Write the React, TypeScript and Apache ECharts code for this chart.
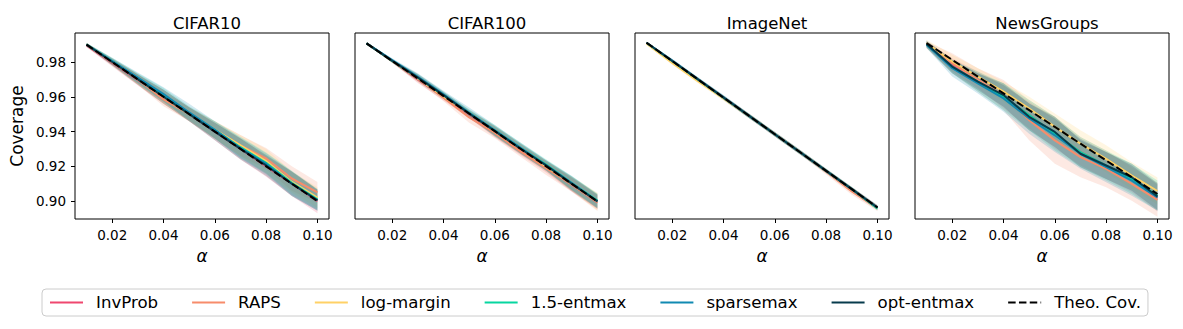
import React, { useEffect, useRef } from "react";
import * as echarts from "echarts";

// ---------- data ----------
const ALPHAS = [0.01, 0.02, 0.03, 0.04, 0.05, 0.06, 0.07, 0.08, 0.09, 0.1];
const THEO = [0.99, 0.98, 0.97, 0.96, 0.95, 0.94, 0.93, 0.92, 0.91, 0.9];

const METHODS = ["InvProb", "RAPS", "log-margin", "1.5-entmax", "sparsemax", "opt-entmax"];
const COLORS = ["#ef476f", "#f78c6b", "#ffd166", "#06d6a0", "#118ab2", "#073b4c"];
const PANEL_TITLES = ["CIFAR10", "CIFAR100", "ImageNet", "NewsGroups"];
const X_TICKS = [0.02, 0.04, 0.06, 0.08, 0.1];
const Y_TICKS = [0.9, 0.92, 0.94, 0.96, 0.98];
const Y_MIN = [0.8897, 0.89, 0.8937, 0.8851];
const Y_MAX = [0.9967, 0.9959, 0.9953, 0.996];

// CIFAR10 means
const c10_invprob = [0.9895, 0.9795, 0.9695, 0.96, 0.95, 0.94, 0.93, 0.92, 0.91, 0.9];
const c10_raps = [0.99, 0.98, 0.97, 0.9585, 0.95, 0.941, 0.932, 0.9245, 0.913, 0.905];
const c10_logm = [0.99, 0.98, 0.97, 0.96, 0.95, 0.941, 0.932, 0.923, 0.911, 0.902];
const c10_ent15 = [0.99, 0.9805, 0.9705, 0.961, 0.9505, 0.941, 0.931, 0.922, 0.9105, 0.901];
const c10_sparse = [0.99, 0.9805, 0.971, 0.9615, 0.951, 0.941, 0.9305, 0.9215, 0.91, 0.9005];
const c10_opt = [0.99, 0.98, 0.97, 0.96, 0.95, 0.94, 0.93, 0.9205, 0.91, 0.9005];
// CIFAR10 std
const c10_invprob_sd = [0.001, 0.002, 0.003, 0.004, 0.004, 0.005, 0.006, 0.006, 0.007, 0.007];
const c10_raps_sd = [0.001, 0.002, 0.003, 0.004, 0.004, 0.005, 0.006, 0.006, 0.007, 0.006];
const c10_logm_sd = [0.001, 0.002, 0.003, 0.004, 0.004, 0.005, 0.006, 0.007, 0.006, 0.006];
const c10_ent15_sd = [0.001, 0.002, 0.003, 0.004, 0.004, 0.005, 0.006, 0.006, 0.007, 0.006];
const c10_sparse_sd = [0.001, 0.002, 0.003, 0.004, 0.005, 0.005, 0.006, 0.006, 0.007, 0.006];
const c10_opt_sd = [0.001, 0.002, 0.003, 0.004, 0.004, 0.005, 0.006, 0.006, 0.007, 0.006];

// CIFAR100 means
const c100_invprob = [0.99, 0.98, 0.9695, 0.9595, 0.9495, 0.9395, 0.9295, 0.9195, 0.9095, 0.8995];
const c100_raps = [0.99, 0.98, 0.97, 0.959, 0.9478, 0.939, 0.9285, 0.919, 0.9095, 0.8995];
const c100_logm = [0.99, 0.98, 0.97, 0.96, 0.95, 0.94, 0.93, 0.92, 0.91, 0.9];
const c100_ent15 = [0.99, 0.98, 0.9705, 0.9605, 0.9505, 0.9405, 0.9305, 0.921, 0.9105, 0.9005];
const c100_sparse = [0.99, 0.9805, 0.971, 0.961, 0.9505, 0.9405, 0.9305, 0.9205, 0.9105, 0.9];
const c100_opt = [0.99, 0.98, 0.9705, 0.9605, 0.95, 0.94, 0.93, 0.9205, 0.91, 0.9];
// CIFAR100 std
const c100_invprob_sd = [0.0005, 0.001, 0.002, 0.002, 0.002, 0.003, 0.003, 0.003, 0.004, 0.004];
const c100_raps_sd = [0.0005, 0.001, 0.002, 0.002, 0.003, 0.003, 0.003, 0.004, 0.004, 0.005];
const c100_logm_sd = [0.0005, 0.001, 0.002, 0.002, 0.002, 0.003, 0.003, 0.003, 0.004, 0.005];
const c100_ent15_sd = [0.0005, 0.001, 0.002, 0.002, 0.002, 0.003, 0.003, 0.003, 0.004, 0.004];
const c100_sparse_sd = [0.0005, 0.001, 0.002, 0.002, 0.003, 0.003, 0.003, 0.003, 0.004, 0.004];
const c100_opt_sd = [0.0005, 0.001, 0.002, 0.002, 0.002, 0.003, 0.003, 0.003, 0.004, 0.004];

// ImageNet means
const inet_invprob = [0.99, 0.98, 0.97, 0.96, 0.95, 0.94, 0.93, 0.92, 0.91, 0.9];
const inet_raps = [0.99, 0.98, 0.97, 0.96, 0.95, 0.94, 0.93, 0.9195, 0.9088, 0.8995];
const inet_logm = [0.9895, 0.979, 0.969, 0.9595, 0.95, 0.94, 0.93, 0.92, 0.91, 0.9];
const inet_ent15 = [0.99, 0.98, 0.97, 0.96, 0.95, 0.94, 0.93, 0.92, 0.91, 0.8995];
const inet_sparse = [0.99, 0.9802, 0.9702, 0.9602, 0.95, 0.94, 0.93, 0.92, 0.91, 0.9];
const inet_opt = [0.99, 0.98, 0.97, 0.96, 0.95, 0.94, 0.93, 0.92, 0.91, 0.9];
// ImageNet std
const inet_invprob_sd = [0.0005, 0.001, 0.001, 0.0012, 0.0012, 0.0012, 0.0012, 0.0012, 0.0012, 0.0012];
const inet_raps_sd = [0.0005, 0.001, 0.001, 0.0012, 0.0012, 0.0012, 0.0012, 0.0015, 0.0018, 0.0015];
const inet_logm_sd = [0.0005, 0.001, 0.001, 0.0012, 0.0012, 0.0012, 0.0012, 0.0012, 0.0012, 0.0012];
const inet_ent15_sd = [0.0005, 0.001, 0.001, 0.0012, 0.0012, 0.0012, 0.0012, 0.0012, 0.0012, 0.0012];
const inet_sparse_sd = [0.0005, 0.001, 0.001, 0.0012, 0.0012, 0.0012, 0.0012, 0.0012, 0.0012, 0.0012];
const inet_opt_sd = [0.0005, 0.001, 0.001, 0.0012, 0.0012, 0.0012, 0.0012, 0.0012, 0.0012, 0.0012];

// NewsGroups means
const news_invprob = [0.989, 0.977, 0.968, 0.958, 0.947, 0.936, 0.925, 0.917, 0.909, 0.8975];
const news_raps = [0.989, 0.978, 0.968, 0.959, 0.944, 0.932, 0.922, 0.915, 0.906, 0.8965];
const news_logm = [0.99, 0.979, 0.97, 0.961, 0.951, 0.94, 0.93, 0.921, 0.911, 0.9018];
const news_ent15 = [0.989, 0.976, 0.967, 0.958, 0.947, 0.936, 0.925, 0.917, 0.909, 0.899];
const news_sparse = [0.989, 0.975, 0.966, 0.957, 0.945, 0.935, 0.924, 0.916, 0.908, 0.898];
const news_opt = [0.9895, 0.976, 0.967, 0.959, 0.946, 0.937, 0.924, 0.917, 0.91, 0.8985];
// NewsGroups std
const news_invprob_sd = [0.002, 0.004, 0.005, 0.007, 0.008, 0.009, 0.008, 0.008, 0.008, 0.008];
const news_raps_sd = [0.002, 0.006, 0.007, 0.009, 0.012, 0.014, 0.012, 0.011, 0.01, 0.01];
const news_logm_sd = [0.002, 0.004, 0.005, 0.006, 0.007, 0.008, 0.008, 0.008, 0.008, 0.008];
const news_ent15_sd = [0.002, 0.004, 0.006, 0.008, 0.009, 0.01, 0.009, 0.009, 0.009, 0.009];
const news_sparse_sd = [0.002, 0.005, 0.006, 0.008, 0.009, 0.01, 0.009, 0.009, 0.009, 0.008];
const news_opt_sd = [0.002, 0.004, 0.005, 0.007, 0.008, 0.009, 0.008, 0.008, 0.008, 0.008];

const PANEL_MEANS = [
  [c10_invprob, c10_raps, c10_logm, c10_ent15, c10_sparse, c10_opt],
  [c100_invprob, c100_raps, c100_logm, c100_ent15, c100_sparse, c100_opt],
  [inet_invprob, inet_raps, inet_logm, inet_ent15, inet_sparse, inet_opt],
  [news_invprob, news_raps, news_logm, news_ent15, news_sparse, news_opt],
];
const PANEL_SDS = [
  [c10_invprob_sd, c10_raps_sd, c10_logm_sd, c10_ent15_sd, c10_sparse_sd, c10_opt_sd],
  [c100_invprob_sd, c100_raps_sd, c100_logm_sd, c100_ent15_sd, c100_sparse_sd, c100_opt_sd],
  [inet_invprob_sd, inet_raps_sd, inet_logm_sd, inet_ent15_sd, inet_sparse_sd, inet_opt_sd],
  [news_invprob_sd, news_raps_sd, news_logm_sd, news_ent15_sd, news_sparse_sd, news_opt_sd],
];

// ---------- layout ----------
const FONT = "DejaVu Sans";
const GRID_LEFT0 = 75;
const GRID_STEP = 280;
const GRID_W = 254;
const GRID_TOP = 33;
const GRID_H = 186;

function buildOption() {
  const grid: any[] = [];
  const xAxis: any[] = [];
  const yAxis: any[] = [];
  const title: any[] = [];
  const series: any[] = [];

  PANEL_TITLES.forEach((t, p) => {
    const left = GRID_LEFT0 + GRID_STEP * p;
    grid.push({
      left,
      top: GRID_TOP,
      width: GRID_W,
      height: GRID_H,
      show: true,
      borderColor: "#000",
      borderWidth: 1,
      backgroundColor: "transparent",
    });
    title.push({
      text: t,
      left: left + GRID_W / 2,
      top: 10,
      textAlign: "center",
      textStyle: { fontFamily: FONT, fontSize: 16.5, fontWeight: "normal", color: "#000" },
    });
    xAxis.push({
      type: "value",
      gridIndex: p,
      min: 0.0055,
      max: 0.1045,
      name: "α",
      nameLocation: "middle",
      nameGap: 28,
      nameTextStyle: { fontFamily: FONT, fontSize: 17, fontStyle: "italic", color: "#000" },
      axisLine: { show: false },
      splitLine: { show: false },
      axisTick: {
        show: true,
        inside: false,
        length: 4,
        lineStyle: { color: "#000", width: 1 },
        customValues: X_TICKS,
      },
      axisLabel: {
        show: true,
        margin: 9,
        fontFamily: FONT,
        fontSize: 13.5,
        color: "#000",
        customValues: X_TICKS,
        formatter: (v: number) => v.toFixed(2),
      },
    });
    yAxis.push({
      type: "value",
      gridIndex: p,
      min: Y_MIN[p],
      max: Y_MAX[p],
      name: p === 0 ? "Coverage" : "",
      nameLocation: "middle",
      nameGap: 50,
      nameTextStyle: { fontFamily: FONT, fontSize: 17, color: "#000" },
      axisLine: { show: false },
      splitLine: { show: false },
      axisTick: {
        show: p === 0,
        inside: false,
        length: 4,
        lineStyle: { color: "#000", width: 1 },
        customValues: Y_TICKS,
      },
      axisLabel: {
        show: p === 0,
        margin: 9,
        fontFamily: FONT,
        fontSize: 13.5,
        color: "#000",
        customValues: Y_TICKS,
        formatter: (v: number) => v.toFixed(2),
      },
    });

    // shaded bands (mean ± sd), drawn as polygons through the axis scales
    METHODS.forEach((m, k) => {
      const mean = PANEL_MEANS[p][k];
      const sd = PANEL_SDS[p][k];
      const color = COLORS[k];
      series.push({
        type: "custom",
        xAxisIndex: p,
        yAxisIndex: p,
        silent: true,
        clip: true,
        z: 1,
        data: ALPHAS.map((a, i) => [a, mean[i] - sd[i], mean[i] + sd[i]]),
        encode: { x: 0, y: [1, 2] },
        renderItem: (params: any, api: any) => {
          if (params.dataIndex !== 0) return null;
          const upper = ALPHAS.map((a, i) => api.coord([a, mean[i] + sd[i]]));
          const lower = ALPHAS.map((a, i) => api.coord([a, mean[i] - sd[i]])).reverse();
          return {
            type: "polygon",
            shape: { points: upper.concat(lower) },
            style: { fill: color, opacity: 0.19 },
          };
        },
      });
    });
    // mean lines
    METHODS.forEach((m, k) => {
      const mean = PANEL_MEANS[p][k];
      series.push({
        name: m,
        type: "line",
        xAxisIndex: p,
        yAxisIndex: p,
        symbol: "none",
        z: 2,
        color: COLORS[k],
        lineStyle: { color: COLORS[k], width: 2 },
        data: ALPHAS.map((a, i) => [a, mean[i]]),
      });
    });
    series.push({
      name: "Theo. Cov.",
      type: "line",
      xAxisIndex: p,
      yAxisIndex: p,
      symbol: "none",
      z: 3,
      color: "#000",
      lineStyle: { color: "#000", width: 2, type: [7.5, 3.3] },
      data: ALPHAS.map((a, i) => [a, THEO[i]]),
    });
  });

  return {
    animation: false,
    backgroundColor: "#fff",
    textStyle: { fontFamily: FONT },
    title,
    grid,
    xAxis,
    yAxis,
    legend: {
      data: [...METHODS, "Theo. Cov."],
      left: 42,
      top: 289,
      orient: "horizontal",
      itemWidth: 33,
      itemHeight: 14,
      itemGap: 33,
      padding: [5, 7, 5, 7],
      borderColor: "#cccccc",
      borderWidth: 1,
      borderRadius: 4,
      backgroundColor: "rgba(255,255,255,0.8)",
      itemStyle: { opacity: 0 },
      textStyle: { fontFamily: FONT, fontSize: 16.6, color: "#000", padding: [0, 0, 0, 8] },
      selectedMode: false,
    },
    series,
  };
}

export default function App() {
  const ref = useRef<HTMLDivElement>(null);
  useEffect(() => {
    if (!ref.current) return;
    const chart = echarts.init(ref.current, undefined, { renderer: "svg" });
    chart.setOption(buildOption() as any);
    return () => chart.dispose();
  }, []);
  return (
    <div
      ref={ref}
      style={{ position: "fixed", left: 0, top: 0, width: 1183, height: 329, background: "#fff" }}
    />
  );
}
